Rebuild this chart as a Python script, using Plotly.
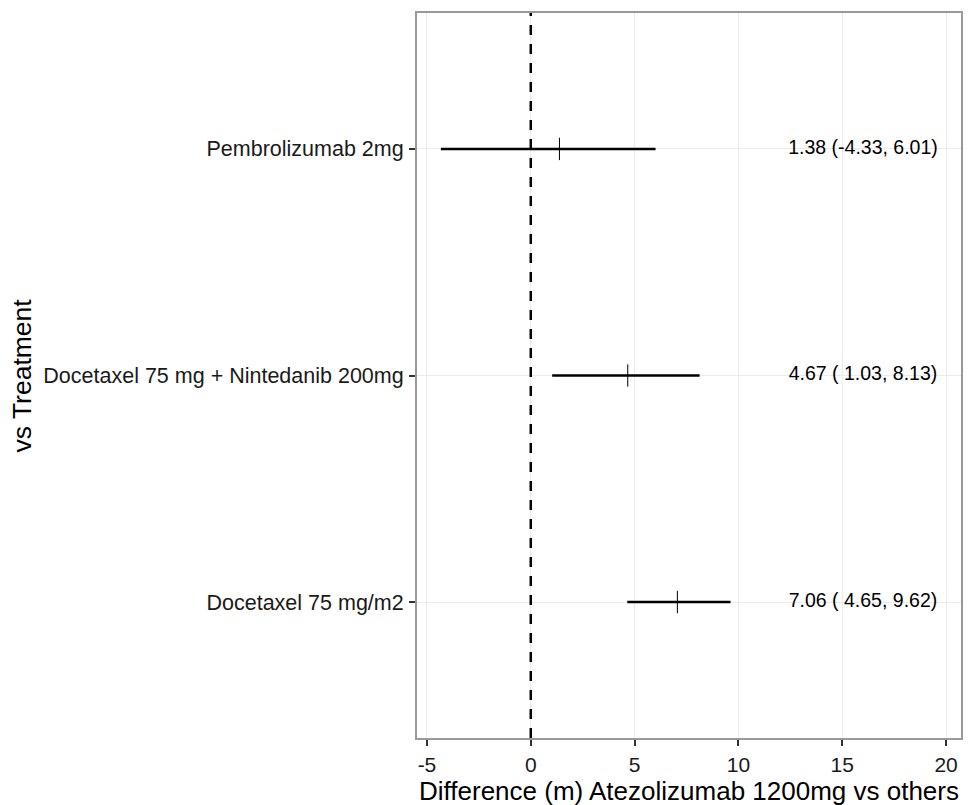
import plotly.graph_objects as go

treatments = ["Docetaxel 75 mg/m2", "Docetaxel 75 mg + Nintedanib 200mg", "Pembrolizumab 2mg"]
estimate = [7.06, 4.67, 1.38]
lower = [4.65, 1.03, -4.33]
upper = [9.62, 8.13, 6.01]
labels = ["7.06 ( 4.65, 9.62)", "4.67 ( 1.03, 8.13)", "1.38 (-4.33, 6.01)"]
label_x = 16
x_ticks = [-5, 0, 5, 10, 15, 20]

ypos = list(range(1, len(treatments) + 1))
FONT = "Liberation Sans, Arial, sans-serif"

fig = go.Figure()

# vertical reference line at 0
fig.add_shape(type="line", x0=0, x1=0, y0=0, y1=1, xref="x", yref="paper",
              line=dict(color="black", width=2.5, dash="10px,9px"), layer="above")

for i in range(len(treatments)):
    fig.add_trace(go.Scatter(x=[lower[i], upper[i]], y=[ypos[i], ypos[i]], mode="lines",
                             line=dict(color="black", width=2.5), showlegend=False, hoverinfo="skip"))

fig.add_trace(go.Scatter(x=estimate, y=ypos, mode="markers",
                         marker=dict(symbol="line-ns", size=16, line=dict(color="black", width=1)),
                         showlegend=False))

fig.add_trace(go.Scatter(x=[label_x] * len(labels), y=ypos, mode="text", text=labels,
                         textposition="middle center",
                         textfont=dict(family=FONT, size=19.5, color="black"),
                         showlegend=False, hoverinfo="skip"))

axis_common = dict(showgrid=True, gridcolor="#ebebeb", gridwidth=1, zeroline=False,
                   showline=True, mirror=True, linecolor="#999999", linewidth=2,
                   ticks="outside", ticklen=6, tickcolor="#333333", tickwidth=1.5)

fig.update_xaxes(range=[-5.48, 20.72], tickvals=x_ticks, ticktext=[str(v) for v in x_ticks],
                 ticklabelstandoff=1, tickfont=dict(family=FONT, size=21, color="#1a1a1a"),
                 **axis_common)
fig.update_yaxes(range=[0.4, 3.6], tickvals=ypos, ticktext=treatments,
                 ticklabelstandoff=1, tickfont=dict(family=FONT, size=21.5, color="#1a1a1a"),
                 **axis_common)

fig.add_annotation(text="Difference (m) Atezolizumab 1200mg vs others", xref="paper", yref="paper",
                   x=0.5, y=0, yshift=-53, showarrow=False, yanchor="middle",
                   font=dict(family=FONT, size=26, color="black"))
fig.add_annotation(text="vs Treatment", xref="paper", yref="paper", textangle=-90,
                   x=0, xshift=-396, y=0.5, showarrow=False, xanchor="center",
                   font=dict(family=FONT, size=26.5, color="black"))

fig.update_layout(width=978, height=805, margin=dict(l=417, r=17, t=13, b=67),
                  plot_bgcolor="white", paper_bgcolor="white")

fig.write_html("out.html")
